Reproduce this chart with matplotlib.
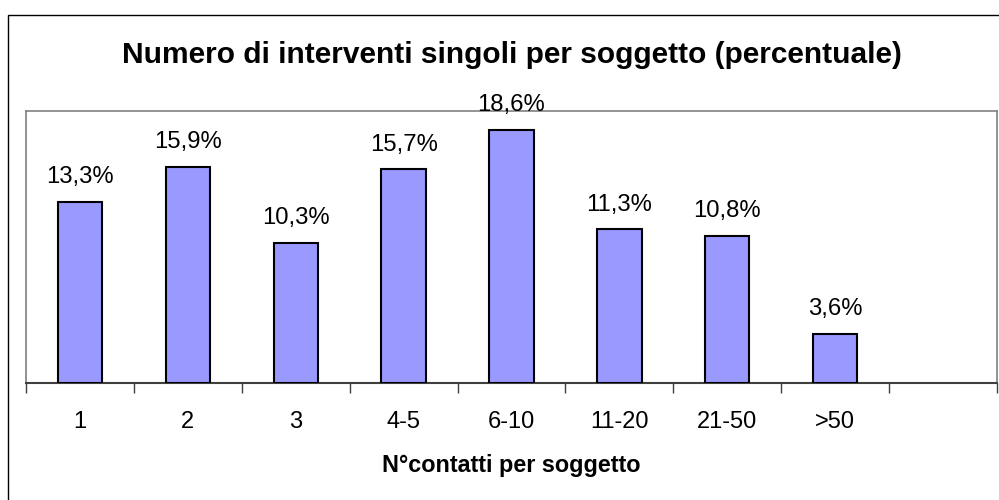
import matplotlib
matplotlib.use("Agg")
import matplotlib.pyplot as plt
from matplotlib.patches import Rectangle
import numpy as np

categories = ["1", "2", "3", "4-5", "6-10", "11-20", "21-50", ">50"]
values = [13.3, 15.9, 10.3, 15.7, 18.6, 11.3, 10.8, 3.6]
labels = ["13,3%", "15,9%", "10,3%", "15,7%", "18,6%", "11,3%", "10,8%", "3,6%"]
title = "Numero di interventi singoli per soggetto (percentuale)"
xlabel = "N°contatti per soggetto"

plt.rcParams['font.family'] = ['Liberation Sans', 'DejaVu Sans']

W, H = 999, 500
fig = plt.figure(figsize=(W / 100, H / 100), dpi=100)
fig.patch.set_facecolor("white")

# outer chart border (right/bottom edges fall outside the image)
fig.patches.append(Rectangle((8 / W, -0.05), 1.2, (H - 15) / H + 0.05,
                             transform=fig.transFigure, fill=False,
                             edgecolor="black", linewidth=1.0))

ax = fig.add_axes([26 / W, (H - 383) / H, (997 - 26) / W, (383 - 111) / H])
x = np.arange(len(categories))
ax.bar(x, values, width=0.41, color="#9999FF", edgecolor="black", linewidth=1.5, zorder=3)

ax.set_xlim(-0.5, 8.5)
ax.set_ylim(0, 20)
ax.set_yticks([])

ax.set_xticks(x)
ax.set_xticklabels(categories, fontsize=17)
ax.tick_params(axis="x", which="major", length=0, pad=20)
ax.set_xticks(np.arange(-0.5, 9.0, 1.0), minor=True)
ax.tick_params(axis="x", which="minor", length=7, width=1, color="#404040", direction="out")

for side in ["left", "top", "right"]:
    ax.spines[side].set_color("#808080")
    ax.spines[side].set_linewidth(1.2)
ax.spines["bottom"].set_color("#404040")
ax.spines["bottom"].set_linewidth(1.5)

for xi, v, lab in zip(x, values, labels):
    ax.annotate(lab, (xi, v), xytext=(0, 13.5), textcoords="offset points",
                ha="center", va="baseline", fontsize=17.2, color="black", zorder=4,
                annotation_clip=False)

cx = (26 + 997) / 2 / W
fig.text(cx, (H - 63) / H, title, ha="center", va="baseline",
         fontsize=21.5, fontweight="bold")
fig.text(cx, (H - 472) / H, xlabel, ha="center", va="baseline",
         fontsize=16.8, fontweight="bold")

fig.savefig("out.png", dpi=100)
